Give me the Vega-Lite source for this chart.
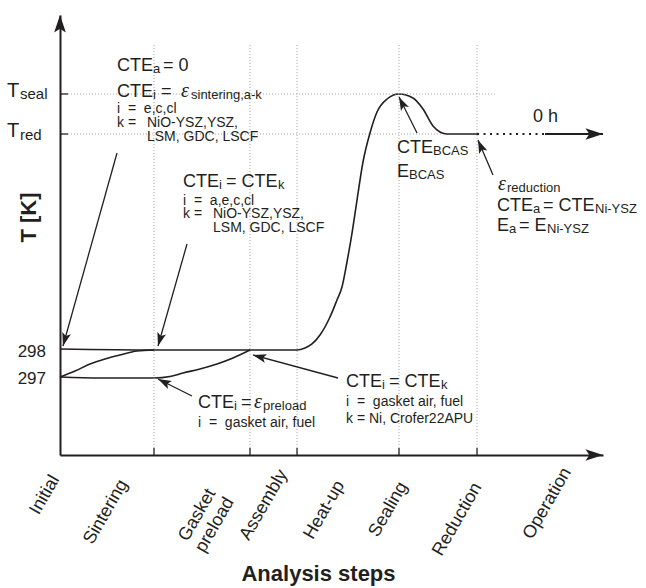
{
  "$schema": "https://vega.github.io/schema/vega-lite/v6.json",
  "width": 543,
  "height": 440,
  "autosize": {"type": "none"},
  "padding": {"left": 60, "top": 15, "right": 43, "bottom": 133},
  "background": "white",
  "config": {"view": {"stroke": null}},
  "datasets": {
    "profile": [
      {"series": "cell", "step": 0, "temp": 24.09},
      {"series": "cell", "step": 17.31, "temp": 23.86},
      {"series": "cell", "step": 43.65, "temp": 23.86},
      {"series": "cell", "step": 45.12, "temp": 24.32},
      {"series": "cell", "step": 46.41, "temp": 25.23},
      {"series": "cell", "step": 47.88, "temp": 27.27},
      {"series": "cell", "step": 49.72, "temp": 31.36},
      {"series": "cell", "step": 51.01, "temp": 35.23},
      {"series": "cell", "step": 51.93, "temp": 38.18},
      {"series": "cell", "step": 52.85, "temp": 43.86},
      {"series": "cell", "step": 53.78, "temp": 50.45},
      {"series": "cell", "step": 54.70, "temp": 57.95},
      {"series": "cell", "step": 55.80, "temp": 66.59},
      {"series": "cell", "step": 57.09, "temp": 73.18},
      {"series": "cell", "step": 58.38, "temp": 77.95},
      {"series": "cell", "step": 60.22, "temp": 80.91},
      {"series": "cell", "step": 62.43, "temp": 82.05},
      {"series": "cell", "step": 65.01, "temp": 81.14},
      {"series": "cell", "step": 66.85, "temp": 78.64},
      {"series": "cell", "step": 68.69, "temp": 74.77},
      {"series": "cell", "step": 69.98, "temp": 73.41},
      {"series": "cell", "step": 71.27, "temp": 72.95},
      {"series": "cell", "step": 76.80, "temp": 72.95},
      {"series": "sintering", "step": 0, "temp": 17.73},
      {"series": "sintering", "step": 2.76, "temp": 19.09},
      {"series": "sintering", "step": 5.52, "temp": 20.68},
      {"series": "sintering", "step": 8.29, "temp": 21.82},
      {"series": "sintering", "step": 11.05, "temp": 22.73},
      {"series": "sintering", "step": 14.18, "temp": 23.64},
      {"series": "sintering", "step": 17.31, "temp": 23.86},
      {"series": "gasket", "step": 0, "temp": 17.73},
      {"series": "gasket", "step": 7.37, "temp": 17.5},
      {"series": "gasket", "step": 17.31, "temp": 17.5},
      {"series": "gasket", "step": 20.26, "temp": 17.84},
      {"series": "gasket", "step": 22.65, "temp": 18.64},
      {"series": "gasket", "step": 25.78, "temp": 19.55},
      {"series": "gasket", "step": 28.91, "temp": 20.68},
      {"series": "gasket", "step": 31.86, "temp": 22.05},
      {"series": "gasket", "step": 34.99, "temp": 23.86}
    ],
    "hold": [
      {"phase": "reduction", "start": 76.8, "end": 89.32, "temp": 72.95},
      {"phase": "operation", "start": 89.32, "end": 100, "temp": 72.95}
    ],
    "step_marks": [
      {"name": "Sintering", "step": 17.31, "base": 0, "tick_top": 1.6, "grid_top": 93.64},
      {"name": "Gasket preload", "step": 34.99, "base": 0, "tick_top": 1.6, "grid_top": 93.64},
      {"name": "Assembly", "step": 43.65, "base": 0, "tick_top": 1.6, "grid_top": 93.64},
      {"name": "Sealing", "step": 62.43, "base": 0, "tick_top": 1.6, "grid_top": 93.64},
      {"name": "Reduction", "step": 76.80, "base": 0, "tick_top": 1.6, "grid_top": 93.64}
    ],
    "levels": [
      {"name": "T_seal", "temp": 82.05, "base": 0, "tick_end": 1.47, "grid_end": 80.11},
      {"name": "T_red", "temp": 72.95, "base": 0, "tick_end": 1.47, "grid_end": 70.53}
    ],
    "arrows": [
      {"no": 1, "tail_x": 10.50, "tail_y": 68.64, "tip_x": 0.55, "tip_y": 24.77},
      {"no": 2, "tail_x": 23.39, "tail_y": 47.95, "tip_x": 18.05, "tip_y": 24.77},
      {"no": 3, "tail_x": 24.31, "tail_y": 13.41, "tip_x": 18.05, "tip_y": 17.27},
      {"no": 4, "tail_x": 51.20, "tail_y": 17.50, "tip_x": 35.54, "tip_y": 22.73},
      {"no": 5, "tail_x": 65.75, "tail_y": 73.18, "tip_x": 62.43, "tip_y": 81.36},
      {"no": 6, "tail_x": 79.74, "tail_y": 63.64, "tip_x": 76.98, "tip_y": 71.59}
    ],
    "tips_right": [
      {"axis": "Analysis steps", "step": 100, "temp": 0},
      {"axis": "operation", "step": 100, "temp": 72.95}
    ],
    "tips_up": [
      {"axis": "T [K]", "step": 0, "temp": 100}
    ],
    "labels_main": [
      {"text": "CTE", "step": 10.497, "temp": 87.273},
      {"text": "= 0", "step": 18.969, "temp": 87.273},
      {"text": "CTE", "step": 10.497, "temp": 81.364},
      {"text": "=", "step": 18.600, "temp": 81.364},
      {"text": "CTE", "step": 22.652, "temp": 60.909},
      {"text": "= CTE", "step": 30.571, "temp": 60.909},
      {"text": "CTE", "step": 25.414, "temp": 10.682},
      {"text": "=", "step": 33.333, "temp": 10.682},
      {"text": "CTE", "step": 52.670, "temp": 15.455},
      {"text": "= CTE", "step": 60.589, "temp": 15.455},
      {"text": "CTE", "step": 62.063, "temp": 68.636},
      {"text": "E", "step": 62.063, "temp": 63.182},
      {"text": "CTE", "step": 80.479, "temp": 55.455},
      {"text": "= CTE", "step": 88.950, "temp": 55.455},
      {"text": "E", "step": 80.479, "temp": 50.909},
      {"text": "= E", "step": 84.530, "temp": 50.909},
      {"text": "0 h", "step": 87.109, "temp": 75.682}
    ],
    "labels_sub": [
      {"text": "a", "step": 17.127, "temp": 86.818},
      {"text": "i", "step": 17.127, "temp": 80.909},
      {"text": "sintering,a-k", "step": 24.125, "temp": 80.909},
      {"text": "i", "step": 29.282, "temp": 60.455},
      {"text": "k", "step": 40.147, "temp": 60.455},
      {"text": "i", "step": 32.044, "temp": 10.227},
      {"text": "preload", "step": 37.385, "temp": 10.227},
      {"text": "i", "step": 59.300, "temp": 15.0},
      {"text": "k", "step": 70.166, "temp": 15.0},
      {"text": "BCAS", "step": 68.692, "temp": 68.182},
      {"text": "BCAS", "step": 64.273, "temp": 62.727},
      {"text": "reduction", "step": 82.320, "temp": 59.773},
      {"text": "a", "step": 87.109, "temp": 55.0},
      {"text": "Ni-YSZ", "step": 98.527, "temp": 55.0},
      {"text": "a", "step": 82.689, "temp": 50.455},
      {"text": "Ni-YSZ", "step": 89.687, "temp": 50.455}
    ],
    "labels_greek": [
      {"text": "ε", "step": 22.284, "temp": 81.364},
      {"text": "ε", "step": 35.727, "temp": 10.682},
      {"text": "ε", "step": 80.663, "temp": 60.227}
    ],
    "labels_detail": [
      {"text": "i\u00a0\u00a0=\u00a0\u00a0e,c,cl", "step": 10.497, "temp": 77.727},
      {"text": "k\u00a0=", "step": 10.497, "temp": 74.545},
      {"text": "NiO-YSZ,YSZ,", "step": 16.022, "temp": 74.545},
      {"text": "LSM, GDC, LSCF", "step": 16.022, "temp": 71.364},
      {"text": "i\u00a0\u00a0=\u00a0\u00a0a,e,c,cl", "step": 22.652, "temp": 56.818},
      {"text": "k\u00a0=", "step": 22.652, "temp": 53.864},
      {"text": "NiO-YSZ,YSZ,", "step": 28.177, "temp": 53.864},
      {"text": "LSM, GDC, LSCF", "step": 28.177, "temp": 50.682},
      {"text": "i\u00a0\u00a0=\u00a0\u00a0gasket air, fuel", "step": 25.414, "temp": 6.364},
      {"text": "i\u00a0\u00a0=\u00a0\u00a0gasket air, fuel", "step": 52.670, "temp": 11.136},
      {"text": "k = Ni, Crofer22APU", "step": 52.670, "temp": 7.273}
    ],
    "ylabels_num": [
      {"text": "298", "step": -2.578, "temp": 22.273},
      {"text": "297", "step": -2.578, "temp": 16.136}
    ],
    "ylabels_T": [
      {"text": "T", "step": -9.761, "temp": 81.364},
      {"text": "T", "step": -9.761, "temp": 72.273}
    ],
    "ylabels_sub": [
      {"text": "seal", "step": -7.366, "temp": 80.909},
      {"text": "red", "step": -7.366, "temp": 71.591}
    ],
    "xlabels": [
      {"text": "Initial", "step": -2.762, "temp": -9.091},
      {"text": "Sintering", "step": 8.471, "temp": -12.955},
      {"text": ["Gasket", "preload"], "step": 25.322, "temp": -13.636},
      {"text": "Assembly", "step": 37.569, "temp": -11.364},
      {"text": "Heat-up", "step": 48.711, "temp": -12.5},
      {"text": "Sealing", "step": 60.497, "temp": -12.386},
      {"text": "Reduction", "step": 73.204, "temp": -14.659},
      {"text": "Operation", "step": 89.779, "temp": -11.023}
    ]
  },
  "layer": [
    {
      "data": {"name": "profile"},
      "mark": {"type": "line", "interpolate": "monotone", "color": "#231f20", "strokeWidth": 1.6},
      "encoding": {
        "x": {
          "field": "step", "type": "quantitative",
          "scale": {"domain": [0, 100], "nice": false, "zero": false},
          "axis": {
            "title": "Analysis steps", "domain": true, "ticks": false, "labels": false, "grid": false,
            "domainColor": "#231f20", "domainWidth": 2,
            "titleFont": "Liberation Sans", "titleFontSize": 22, "titleFontWeight": "bold", "titleColor": "#231f20",
            "titleX": 258, "titleY": 125, "titleBaseline": "alphabetic", "titleAlign": "center"
          }
        },
        "y": {
          "field": "temp", "type": "quantitative",
          "scale": {"domain": [0, 100], "nice": false, "zero": false},
          "axis": {
            "title": "T [K]", "domain": true, "ticks": false, "labels": false, "grid": false,
            "domainColor": "#231f20", "domainWidth": 2,
            "titleFont": "Liberation Sans", "titleFontSize": 22, "titleFontWeight": "bold", "titleColor": "#231f20",
            "titleX": -25, "titleY": 202, "titleAngle": 270, "titleBaseline": "alphabetic", "titleAlign": "center"
          }
        },
        "detail": {"field": "series", "type": "nominal"}
      }
    },
    {
      "data": {"name": "step_marks"},
      "mark": {"type": "rule", "color": "#a3a3a3", "strokeWidth": 1, "strokeDash": [1, 2]},
      "encoding": {
        "x": {"field": "step", "type": "quantitative", "scale": {"domain": [0, 100], "nice": false, "zero": false}},
        "y": {"field": "tick_top", "type": "quantitative", "scale": {"domain": [0, 100], "nice": false, "zero": false}},
        "y2": {"field": "grid_top"}
      }
    },
    {
      "data": {"name": "levels"},
      "mark": {"type": "rule", "color": "#a3a3a3", "strokeWidth": 1, "strokeDash": [1, 2]},
      "encoding": {
        "x": {"field": "tick_end", "type": "quantitative", "scale": {"domain": [0, 100], "nice": false, "zero": false}},
        "x2": {"field": "grid_end"},
        "y": {"field": "temp", "type": "quantitative", "scale": {"domain": [0, 100], "nice": false, "zero": false}}
      }
    },
    {
      "data": {"name": "step_marks"},
      "mark": {"type": "rule", "color": "#231f20", "strokeWidth": 1.3},
      "encoding": {
        "x": {"field": "step", "type": "quantitative", "scale": {"domain": [0, 100], "nice": false, "zero": false}},
        "y": {"field": "base", "type": "quantitative", "scale": {"domain": [0, 100], "nice": false, "zero": false}},
        "y2": {"field": "tick_top"}
      }
    },
    {
      "data": {"name": "levels"},
      "mark": {"type": "rule", "color": "#231f20", "strokeWidth": 1.3},
      "encoding": {
        "x": {"field": "base", "type": "quantitative", "scale": {"domain": [0, 100], "nice": false, "zero": false}},
        "x2": {"field": "tick_end"},
        "y": {"field": "temp", "type": "quantitative", "scale": {"domain": [0, 100], "nice": false, "zero": false}}
      }
    },
    {
      "data": {"name": "hold"},
      "mark": {"type": "rule", "color": "#231f20", "strokeWidth": 2},
      "encoding": {
        "x": {"field": "start", "type": "quantitative", "scale": {"domain": [0, 100], "nice": false, "zero": false}},
        "x2": {"field": "end"},
        "y": {"field": "temp", "type": "quantitative", "scale": {"domain": [0, 100], "nice": false, "zero": false}},
        "strokeDash": {"field": "phase", "type": "nominal", "scale": {"domain": ["reduction", "operation"], "range": [[2, 4.5], [1, 0]]}, "legend": null}
      }
    },
    {
      "data": {"name": "arrows"},
      "mark": {"type": "rule", "color": "#231f20", "strokeWidth": 1.3},
      "encoding": {
        "x": {"field": "tail_x", "type": "quantitative", "scale": {"domain": [0, 100], "nice": false, "zero": false}},
        "y": {"field": "tail_y", "type": "quantitative", "scale": {"domain": [0, 100], "nice": false, "zero": false}},
        "x2": {"field": "tip_x"},
        "y2": {"field": "tip_y"}
      }
    },
    {
      "data": {"name": "arrows"},
      "transform": [{"filter": "datum.no === 1"}],
      "mark": {"type": "point", "shape": "M0,0L-0.6,1.8L0,1.4L0.6,1.8Z", "filled": true, "color": "#231f20", "opacity": 1, "size": 220, "strokeWidth": 0, "angle": -164.4},
      "encoding": {
        "x": {"field": "tip_x", "type": "quantitative", "scale": {"domain": [0, 100], "nice": false, "zero": false}},
        "y": {"field": "tip_y", "type": "quantitative", "scale": {"domain": [0, 100], "nice": false, "zero": false}}
      }
    },
    {
      "data": {"name": "arrows"},
      "transform": [{"filter": "datum.no === 2"}],
      "mark": {"type": "point", "shape": "M0,0L-0.6,1.8L0,1.4L0.6,1.8Z", "filled": true, "color": "#231f20", "opacity": 1, "size": 220, "strokeWidth": 0, "angle": -164.1},
      "encoding": {
        "x": {"field": "tip_x", "type": "quantitative", "scale": {"domain": [0, 100], "nice": false, "zero": false}},
        "y": {"field": "tip_y", "type": "quantitative", "scale": {"domain": [0, 100], "nice": false, "zero": false}}
      }
    },
    {
      "data": {"name": "arrows"},
      "transform": [{"filter": "datum.no === 3"}],
      "mark": {"type": "point", "shape": "M0,0L-0.6,1.8L0,1.4L0.6,1.8Z", "filled": true, "color": "#231f20", "opacity": 1, "size": 220, "strokeWidth": 0, "angle": -63.4},
      "encoding": {
        "x": {"field": "tip_x", "type": "quantitative", "scale": {"domain": [0, 100], "nice": false, "zero": false}},
        "y": {"field": "tip_y", "type": "quantitative", "scale": {"domain": [0, 100], "nice": false, "zero": false}}
      }
    },
    {
      "data": {"name": "arrows"},
      "transform": [{"filter": "datum.no === 4"}],
      "mark": {"type": "point", "shape": "M0,0L-0.6,1.8L0,1.4L0.6,1.8Z", "filled": true, "color": "#231f20", "opacity": 1, "size": 220, "strokeWidth": 0, "angle": -74.9},
      "encoding": {
        "x": {"field": "tip_x", "type": "quantitative", "scale": {"domain": [0, 100], "nice": false, "zero": false}},
        "y": {"field": "tip_y", "type": "quantitative", "scale": {"domain": [0, 100], "nice": false, "zero": false}}
      }
    },
    {
      "data": {"name": "arrows"},
      "transform": [{"filter": "datum.no === 5"}],
      "mark": {"type": "point", "shape": "M0,0L-0.6,1.8L0,1.4L0.6,1.8Z", "filled": true, "color": "#231f20", "opacity": 1, "size": 220, "strokeWidth": 0, "angle": -26.6},
      "encoding": {
        "x": {"field": "tip_x", "type": "quantitative", "scale": {"domain": [0, 100], "nice": false, "zero": false}},
        "y": {"field": "tip_y", "type": "quantitative", "scale": {"domain": [0, 100], "nice": false, "zero": false}}
      }
    },
    {
      "data": {"name": "arrows"},
      "transform": [{"filter": "datum.no === 6"}],
      "mark": {"type": "point", "shape": "M0,0L-0.6,1.8L0,1.4L0.6,1.8Z", "filled": true, "color": "#231f20", "opacity": 1, "size": 220, "strokeWidth": 0, "angle": -23.2},
      "encoding": {
        "x": {"field": "tip_x", "type": "quantitative", "scale": {"domain": [0, 100], "nice": false, "zero": false}},
        "y": {"field": "tip_y", "type": "quantitative", "scale": {"domain": [0, 100], "nice": false, "zero": false}}
      }
    },
    {
      "data": {"name": "tips_right"},
      "mark": {"type": "point", "shape": "M0,0L-0.6,1.8L0,1.4L0.6,1.8Z", "filled": true, "color": "#231f20", "opacity": 1, "size": 380, "strokeWidth": 0, "angle": 90},
      "encoding": {
        "x": {"field": "step", "type": "quantitative", "scale": {"domain": [0, 100], "nice": false, "zero": false}},
        "y": {"field": "temp", "type": "quantitative", "scale": {"domain": [0, 100], "nice": false, "zero": false}}
      }
    },
    {
      "data": {"name": "tips_up"},
      "mark": {"type": "point", "shape": "M0,0L-0.6,1.8L0,1.4L0.6,1.8Z", "filled": true, "color": "#231f20", "opacity": 1, "size": 380, "strokeWidth": 0},
      "encoding": {
        "x": {"field": "step", "type": "quantitative", "scale": {"domain": [0, 100], "nice": false, "zero": false}},
        "y": {"field": "temp", "type": "quantitative", "scale": {"domain": [0, 100], "nice": false, "zero": false}}
      }
    },
    {
      "data": {"name": "labels_main"},
      "mark": {"type": "text", "font": "Liberation Sans", "fontSize": 18, "align": "left", "baseline": "alphabetic", "color": "#231f20"},
      "encoding": {
        "x": {"field": "step", "type": "quantitative", "scale": {"domain": [0, 100], "nice": false, "zero": false}},
        "y": {"field": "temp", "type": "quantitative", "scale": {"domain": [0, 100], "nice": false, "zero": false}},
        "text": {"field": "text"}
      }
    },
    {
      "data": {"name": "labels_sub"},
      "mark": {"type": "text", "font": "Liberation Sans", "fontSize": 13, "align": "left", "baseline": "alphabetic", "color": "#231f20"},
      "encoding": {
        "x": {"field": "step", "type": "quantitative", "scale": {"domain": [0, 100], "nice": false, "zero": false}},
        "y": {"field": "temp", "type": "quantitative", "scale": {"domain": [0, 100], "nice": false, "zero": false}},
        "text": {"field": "text"}
      }
    },
    {
      "data": {"name": "labels_greek"},
      "mark": {"type": "text", "font": "Liberation Serif", "fontSize": 20, "fontStyle": "italic", "align": "left", "baseline": "alphabetic", "color": "#231f20"},
      "encoding": {
        "x": {"field": "step", "type": "quantitative", "scale": {"domain": [0, 100], "nice": false, "zero": false}},
        "y": {"field": "temp", "type": "quantitative", "scale": {"domain": [0, 100], "nice": false, "zero": false}},
        "text": {"field": "text"}
      }
    },
    {
      "data": {"name": "labels_detail"},
      "mark": {"type": "text", "font": "Liberation Sans", "fontSize": 14, "align": "left", "baseline": "alphabetic", "color": "#231f20"},
      "encoding": {
        "x": {"field": "step", "type": "quantitative", "scale": {"domain": [0, 100], "nice": false, "zero": false}},
        "y": {"field": "temp", "type": "quantitative", "scale": {"domain": [0, 100], "nice": false, "zero": false}},
        "text": {"field": "text"}
      }
    },
    {
      "data": {"name": "ylabels_num"},
      "mark": {"type": "text", "font": "Liberation Sans", "fontSize": 17, "align": "right", "baseline": "alphabetic", "color": "#231f20"},
      "encoding": {
        "x": {"field": "step", "type": "quantitative", "scale": {"domain": [0, 100], "nice": false, "zero": false}},
        "y": {"field": "temp", "type": "quantitative", "scale": {"domain": [0, 100], "nice": false, "zero": false}},
        "text": {"field": "text"}
      }
    },
    {
      "data": {"name": "ylabels_T"},
      "mark": {"type": "text", "font": "Liberation Sans", "fontSize": 20, "align": "left", "baseline": "alphabetic", "color": "#231f20"},
      "encoding": {
        "x": {"field": "step", "type": "quantitative", "scale": {"domain": [0, 100], "nice": false, "zero": false}},
        "y": {"field": "temp", "type": "quantitative", "scale": {"domain": [0, 100], "nice": false, "zero": false}},
        "text": {"field": "text"}
      }
    },
    {
      "data": {"name": "ylabels_sub"},
      "mark": {"type": "text", "font": "Liberation Sans", "fontSize": 15, "align": "left", "baseline": "alphabetic", "color": "#231f20"},
      "encoding": {
        "x": {"field": "step", "type": "quantitative", "scale": {"domain": [0, 100], "nice": false, "zero": false}},
        "y": {"field": "temp", "type": "quantitative", "scale": {"domain": [0, 100], "nice": false, "zero": false}},
        "text": {"field": "text"}
      }
    },
    {
      "data": {"name": "xlabels"},
      "mark": {"type": "text", "font": "Liberation Sans", "fontSize": 18, "align": "center", "baseline": "middle", "angle": -60, "lineHeight": 20, "color": "#231f20"},
      "encoding": {
        "x": {"field": "step", "type": "quantitative", "scale": {"domain": [0, 100], "nice": false, "zero": false}},
        "y": {"field": "temp", "type": "quantitative", "scale": {"domain": [0, 100], "nice": false, "zero": false}},
        "text": {"field": "text"}
      }
    }
  ]
}
